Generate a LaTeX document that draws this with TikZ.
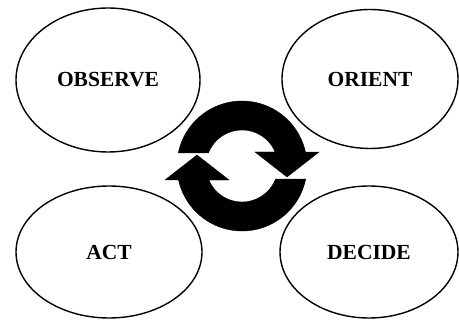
\documentclass[tikz,border=0pt]{standalone}
\usepackage{fontspec}
\setmainfont{Liberation Serif}
\usetikzlibrary{shapes.geometric}

\tikzset{
  phase/.style={ellipse, draw=black, line width=1.4pt, inner sep=0pt,
                font=\fontsize{21.5}{24}\selectfont\bfseries},
  looparrow/.style={fill=black, draw=black, line width=0.4pt, line join=miter}
}

\begin{document}
\begin{tikzpicture}[x=1pt, y=1pt]
    \useasboundingbox (0,0) rectangle (459,322);
    % the four phases
    \node[phase, minimum width=184pt, minimum height=144pt] (observe) at (108,242) {OBSERVE};
    \node[phase, minimum width=176pt, minimum height=139pt] (orient) at (370,243) {ORIENT};
    \node[phase, minimum width=186pt, minimum height=132pt] (act) at (109,70) {ACT};
    \node[phase, minimum width=178pt, minimum height=132pt] (decide) at (369,70) {DECIDE};
    % cycle arrows in the middle
    \coordinate (hub) at (242,156);
    \foreach \turn in {0,180}{
      \fill[looparrow, rotate around={\turn:(hub)}]
        ([shift={(168.4:65)}]hub) arc[start angle=168.4, end angle=12.4, radius=65]
        -- ++(13.5,0) -- (287,145) -- (255,170)
        -- ([shift={(22.9:36)}]hub) arc[start angle=22.9, end angle=158.8, radius=36]
        -- cycle;
    }
\end{tikzpicture}
\end{document}
